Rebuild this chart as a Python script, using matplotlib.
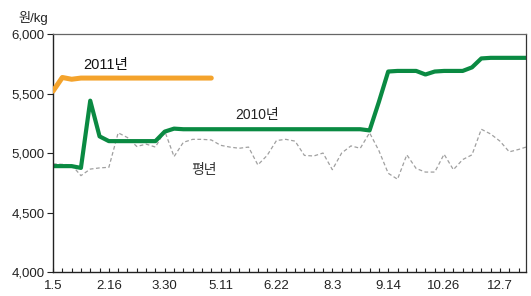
import matplotlib
matplotlib.use("Agg")
import matplotlib.pyplot as plt
from matplotlib.ticker import FixedLocator, MultipleLocator, FuncFormatter

plt.rcParams['font.family'] = ['Liberation Sans', 'Noto Sans CJK KR', 'DejaVu Sans']

# weekly data, week 0 = 1.5
tick_weeks = [0, 6, 12, 18, 24, 30, 36, 42, 48]
tick_labels = ["1.5", "2.16", "3.30", "5.11", "6.22", "8.3", "9.14", "10.26", "12.7"]

price_2011 = [5520, 5635, 5620, 5630, 5630, 5630, 5630, 5630, 5630, 5630,
              5630, 5630, 5630, 5630, 5630, 5630, 5630, 5630]

price_2010 = [4890, 4890, 4890, 4875, 5440, 5140, 5100, 5100, 5100, 5100,
              5100, 5100, 5180, 5205, 5200, 5200, 5200, 5200, 5200, 5200,
              5200, 5200, 5200, 5200, 5200, 5200, 5200, 5200, 5200, 5200,
              5200, 5200, 5200, 5200, 5190, 5430, 5685, 5690, 5690, 5690,
              5660, 5685, 5690, 5690, 5690, 5720, 5795, 5800, 5800, 5800,
              5800, 5800]

price_avg = [4910, 4905, 4900, 4810, 4865, 4875, 4880, 5170, 5130, 5055,
             5075, 5050, 5185, 4970, 5090, 5115, 5115, 5110, 5065, 5050,
             5040, 5050, 4900, 4980, 5105, 5115, 5100, 4980, 4975, 5000,
             4860, 5000, 5060, 5040, 5170, 5020, 4830, 4780, 4985, 4870,
             4840, 4840, 4990, 4860, 4945, 4985, 5200, 5160, 5100, 5010,
             5030, 5055]

fig = plt.figure(figsize=(5.31, 2.96), dpi=100)
ax = fig.add_axes([0.0998, 0.081, 0.8908, 0.804])

ax.plot(range(len(price_avg)), price_avg, color='#a0a0a0', lw=0.9,
        ls=(0, (3, 2)), zorder=1, clip_on=True)
ax.plot(range(len(price_2010)), price_2010, color='#0a8a42', lw=3.0,
        solid_joinstyle='round', solid_capstyle='butt', zorder=2)
ax.plot(range(len(price_2011)), price_2011, color='#f4a32c', lw=3.6,
        solid_joinstyle='round', solid_capstyle='round', zorder=3)

ax.set_xlim(0, 50.8)
ax.set_ylim(4000, 6000)

ax.xaxis.set_major_locator(FixedLocator(tick_weeks))
ax.set_xticklabels(tick_labels)
ax.xaxis.set_minor_locator(MultipleLocator(1))
ax.tick_params(axis='x', which='both', direction='in', length=3, width=0.8,
               labelsize=9.5, pad=6, colors='#222222')
ax.yaxis.set_major_locator(MultipleLocator(500))
ax.yaxis.set_major_formatter(FuncFormatter(lambda v, p: f"{int(v):,}"))
ax.tick_params(axis='y', which='major', direction='out', length=4, width=0.8,
               labelsize=9.5, pad=2, colors='#222222')

for side in ['left', 'bottom']:
    ax.spines[side].set_color('#222222')
    ax.spines[side].set_linewidth(1.0)
ax.spines['top'].set_color('#666666')
ax.spines['right'].set_color('#333333')
ax.spines['top'].set_linewidth(0.9)
ax.spines['right'].set_linewidth(0.9)

fig.text(33 / 531, 1 - 18 / 296, "원/kg", ha='center', va='center',
         fontsize=9.5, color='#222222')
ax.text(3.2, 5740, "2011년", fontsize=10.5, color='#111111', va='center')
ax.text(19.6, 5320, "2010년", fontsize=10, color='#222222', va='center')
ax.text(14.8, 4860, "평년", fontsize=10, color='#333333', va='center')

fig.savefig("out.png", dpi=100)
